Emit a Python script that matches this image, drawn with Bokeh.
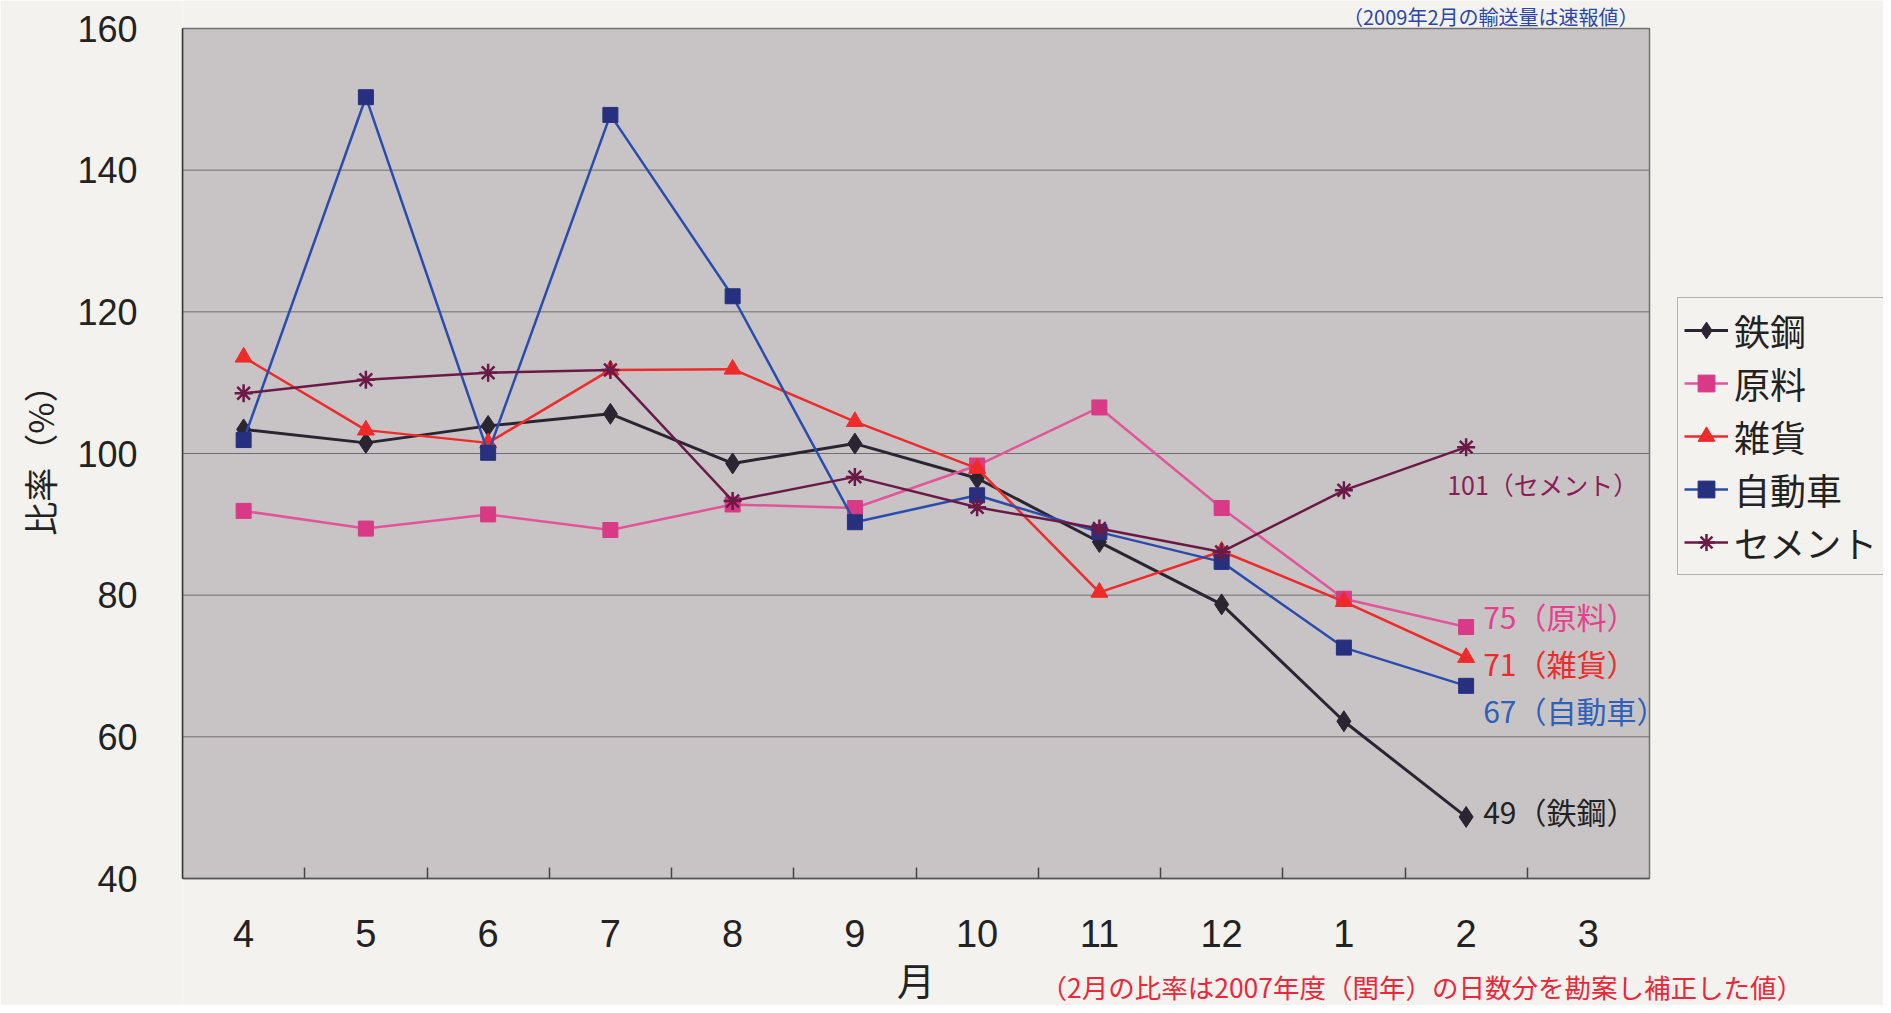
from bokeh.plotting import figure
from bokeh.models import (Range1d, FixedTicker, Legend, LegendItem,
                          ColumnDataSource, BoxAnnotation)
from bokeh.core.properties import value
from bokeh.embed import file_html
from bokeh.resources import INLINE

# ---------------- data ----------------
months = ["4", "5", "6", "7", "8", "9", "10", "11", "12", "1", "2", "3"]
y_ticks = [40, 60, 80, 100, 120, 140, 160]

series_names = ["鉄鋼", "原料", "雑貨", "自動車", "セメント"]
tekko = [103.4, 101.5, 103.9, 105.6, 98.6, 101.4, 96.5, 87.5, 78.7, 62.2, 48.7]
genryo = [91.9, 89.4, 91.4, 89.2, 92.8, 92.3, 98.3, 106.5, 92.3, 79.5, 75.5]
zakka = [113.6, 103.3, 101.5, 111.8, 111.9, 104.5, 97.9, 80.4, 86.2, 79.1, 71.2]
jidosha = [101.9, 150.3, 100.1, 147.8, 122.2, 90.3, 94.1, 88.9, 84.7, 72.6, 67.2]
cement = [108.5, 110.4, 111.4, 111.8, 93.3, 96.7, 92.4, 89.4, 86.1, 94.8, 100.9]

end_labels = ["49（鉄鋼）", "75（原料）", "71（雑貨）", "67（自動車）", "101（セメント）"]

note_text = "（2月の比率は2007年度（閏年）の日数分を勘案し補正した値）"
top_text = "（2009年2月の輸送量は速報値）"
y_label = "比率（%）"
x_label = "月"

# ---------------- styles / layout ----------------
line_colors = ["#2b2431", "#e2559b", "#f02a2a", "#2a4cae", "#6b1a48"]
marker_fill = ["#2b2431", "#d93a86", "#f02a2a", "#27307f", "#6b1a48"]
markers = ["diamond", "square", "triangle", "square", "asterisk"]
marker_sizes = [21, 15, 17, 15, 18]
line_widths = [3, 2.5, 2.5, 2.5, 2.5]
label_colors = ["#222222", "#e6408a", "#ee2a2a", "#3060b8", "#8b1c56"]
label_dx = [17, 17, 17, 17, -19]
label_dy = [-6, -11, 5, 24, 37]
label_sizes = ["30px", "30px", "30px", "30px", "25px"]

JP = "Noto Sans CJK JP"
NUM = "Liberation Sans"
PAGE = "#f4f2ee"
AREA = "#c8c4c6"

W, H = 1883, 1005
PL, PR, PT, PB = 182, 1649, 28, 878      # plot-area box on the canvas (px)
px_x = (PR - PL) / len(months)
px_y = (PB - PT) / (y_ticks[-1] - y_ticks[0])


def dx(px):   # canvas x px -> data x
    return (px - PL) / px_x


def dy(py):   # canvas y px -> data y
    return y_ticks[0] + (PB - py) / px_y


p = figure(width=W, height=H, output_backend="svg", toolbar_location=None,
           x_range=Range1d(0, dx(W)), y_range=Range1d(dy(H), dy(0)),
           min_border_left=PL, min_border_right=0, min_border_top=0,
           min_border_bottom=0)
p.border_fill_color = PAGE
p.background_fill_color = PAGE
p.outline_line_color = None
p.xgrid.grid_line_color = None
p.ygrid.grid_line_color = None

# plot area
p.add_layout(BoxAnnotation(left=0, right=len(months), bottom=y_ticks[0],
                           top=y_ticks[-1], fill_color=AREA, fill_alpha=1,
                           line_color="#707070", line_alpha=1, line_width=1.5,
                           level="underlay"))

# horizontal grid lines
inner = y_ticks[1:-1]
p.segment(x0=[0] * len(inner), x1=[len(months)] * len(inner), y0=inner,
          y1=inner, line_color="#6e6e70", line_width=1)

# x axis: labels at category centres, tick marks between categories
xa = p.xaxis[0]
xa.fixed_location = y_ticks[0]
xa.bounds = (0, len(months))
xa.ticker = FixedTicker(ticks=[i + 0.5 for i in range(len(months))],
                        minor_ticks=list(range(1, len(months))))
xa.major_label_overrides = {i + 0.5: m for i, m in enumerate(months)}
xa.major_tick_in = 0
xa.major_tick_out = 0
xa.minor_tick_in = 11
xa.minor_tick_out = 0
xa.minor_tick_line_color = "#444444"
xa.minor_tick_line_width = 1.5
xa.axis_line_color = "#555555"
xa.axis_line_width = 1.5
xa.major_label_text_font = NUM
xa.major_label_text_font_size = "38px"
xa.major_label_text_color = "#222222"
xa.major_label_standoff = 41
xa.axis_label = x_label
xa.axis_label_text_font = JP
xa.axis_label_text_font_size = "38px"
xa.axis_label_text_font_style = "normal"
xa.axis_label_text_color = "#222222"
xa.axis_label_standoff = 1

ya = p.yaxis[0]
ya.bounds = (y_ticks[0], y_ticks[-1])
ya.ticker = FixedTicker(ticks=y_ticks)
ya.major_tick_in = 0
ya.major_tick_out = 0
ya.minor_tick_line_color = None
ya.axis_line_color = "#333333"
ya.axis_line_width = 1.5
ya.major_label_text_font = NUM
ya.major_label_text_font_size = "36px"
ya.major_label_text_color = "#222222"
ya.major_label_standoff = 45
# the label is centred on the whole frame; ideographic spaces in front lift
# the visible text to the centre of the plot area
ya.axis_label = "\u3000\u3000\u3000" + y_label
ya.axis_label_text_font = JP
ya.axis_label_text_font_size = "34px"
ya.axis_label_text_font_style = "normal"
ya.axis_label_text_color = "#222222"
ya.axis_label_standoff = 10

# ---------------- series ----------------
all_series = [tekko, genryo, zakka, jidosha, cement]
items = []
for i, (name, vals) in enumerate(zip(series_names, all_series)):
    xs = [k + 0.5 for k in range(len(vals))]
    src = ColumnDataSource(dict(x=xs, y=vals))
    ln = p.line("x", "y", source=src, line_color=line_colors[i],
                line_width=line_widths[i])
    if markers[i] == "asterisk":
        mk = p.scatter("x", "y", source=src, marker="asterisk",
                       size=marker_sizes[i], line_color=marker_fill[i],
                       line_width=2.5)
    else:
        mk = p.scatter("x", "y", source=src, marker=markers[i],
                       size=marker_sizes[i], fill_color=marker_fill[i],
                       line_color=marker_fill[i], line_width=1)
    items.append(LegendItem(label=name, renderers=[ln, mk]))

# end-of-line value labels
for i, s in enumerate(all_series):
    p.text(x=[len(s) - 1 + 0.5], y=[s[-1]], text=[end_labels[i]],
           x_offset=label_dx[i], y_offset=label_dy[i],
           text_font=value(JP), text_font_size=label_sizes[i],
           text_color=label_colors[i], text_align="left",
           text_baseline="middle")

# notes
p.text(x=[dx(1040)], y=[dy(986)], text=[note_text], text_font=value(JP),
       text_font_size="26.5px", text_color="#e8283a", text_align="left",
       text_baseline="middle")
p.text(x=[dx(1638)], y=[dy(16)], text=[top_text], text_font=value(JP),
       text_font_size="20px", text_color="#2a46a8", text_align="right",
       text_baseline="middle")

# legend
LEG_L, LEG_T, LEG_H = 1677, 299, 276
legend = Legend(items=items, location=(LEG_L - PL, H - (LEG_T + LEG_H)))
legend.label_text_font = JP
legend.label_text_font_size = "36px"
legend.label_text_color = "#222222"
legend.glyph_width = 44
legend.glyph_height = 42
legend.label_height = 42
legend.label_standoff = 6
legend.spacing = 1
legend.padding = 6
legend.margin = 0
legend.border_line_color = "#777777"
legend.border_line_width = 1.5
legend.background_fill_color = PAGE
legend.background_fill_alpha = 1
p.add_layout(legend, "center")

open("out.html", "w").write(file_html(p, INLINE))
